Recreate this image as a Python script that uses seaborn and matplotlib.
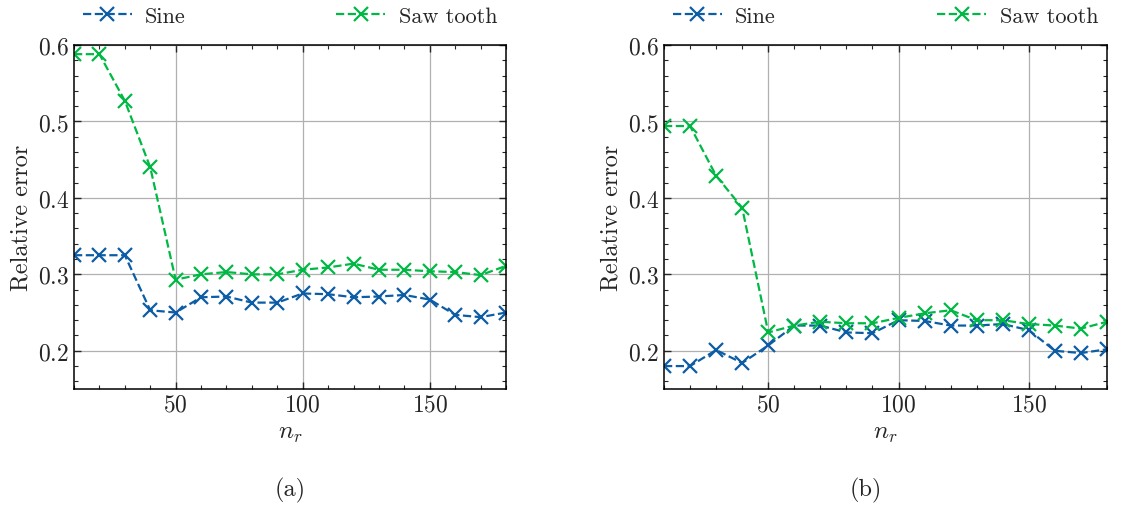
import numpy as np
import pandas as pd
import matplotlib
matplotlib.use("Agg")
import matplotlib.pyplot as plt
import seaborn as sns
from matplotlib.ticker import MultipleLocator

n_r = [10, 20, 30, 40, 50, 60, 70, 80, 90, 100, 110, 120, 130, 140, 150, 160, 170, 180]

sine_a = [0.325, 0.325, 0.325, 0.253, 0.250, 0.270, 0.271, 0.263, 0.263,
          0.275, 0.274, 0.270, 0.271, 0.273, 0.267, 0.247, 0.244, 0.250]
saw_a = [0.588, 0.588, 0.527, 0.440, 0.293, 0.300, 0.303, 0.300, 0.300,
         0.306, 0.309, 0.314, 0.306, 0.306, 0.304, 0.303, 0.299, 0.311]

sine_b = [0.180, 0.180, 0.201, 0.184, 0.207, 0.233, 0.233, 0.224, 0.223,
          0.240, 0.239, 0.233, 0.233, 0.235, 0.227, 0.200, 0.197, 0.202]
saw_b = [0.494, 0.494, 0.429, 0.387, 0.224, 0.233, 0.238, 0.236, 0.236,
         0.243, 0.249, 0.253, 0.240, 0.240, 0.235, 0.233, 0.229, 0.238]

panel_labels = ["(a)", "(b)"]
series_names = ["Sine", "Saw tooth"]
colors = ["#0C5DA5", "#00B945"]

sns.set_theme(style="ticks")
plt.rcParams["font.family"] = ["cmr10", "DejaVu Serif"]
plt.rcParams["mathtext.fontset"] = "cm"
plt.rcParams["axes.formatter.use_mathtext"] = True

fig = plt.figure(figsize=(11.23, 5.06), dpi=100)
ax_a = fig.add_axes([74 / 1123, 1 - 390 / 506, 432 / 1123, 344 / 506])
ax_b = fig.add_axes([664 / 1123, 1 - 390 / 506, 443 / 1123, 344 / 506])

panels = [(ax_a, sine_a, saw_a, 290), (ax_b, sine_b, saw_b, 866)]

for i, (ax, sine, saw, cx) in enumerate(panels):
    for name, vals, c in zip(series_names, [sine, saw], colors):
        sns.lineplot(x=n_r, y=vals, ax=ax, color=c, linestyle="--", marker="x",
                     markersize=9.5, markeredgewidth=1.6, markeredgecolor=c,
                     markerfacecolor=c, linewidth=1.6, label=name)
    ax.set_xlim(10, 180)
    ax.set_ylim(0.15, 0.6)
    ax.xaxis.set_major_locator(MultipleLocator(50))
    ax.xaxis.set_minor_locator(MultipleLocator(10))
    ax.yaxis.set_major_locator(MultipleLocator(0.1))
    ax.yaxis.set_minor_locator(MultipleLocator(0.02))
    ax.tick_params(which="both", direction="in", top=True, right=True, labelsize=17)
    ax.tick_params(which="major", length=5, width=1)
    ax.tick_params(which="minor", length=3, width=0.8)
    ax.grid(True, which="major", color="#b0b0b0", linewidth=0.9)
    for s in ax.spines.values():
        s.set_linewidth(1.1)
        s.set_color("black")
    ax.set_xlabel("$n_r$", fontsize=18)
    ax.set_ylabel("Relative error", fontsize=17.5)
    ax.legend(loc="lower left", bbox_to_anchor=(0, 1.03, 1, 0.12), mode="expand",
              ncol=2, frameon=False, fontsize=16, handlelength=2.2,
              handletextpad=0.6, borderaxespad=0)
    fig.text(cx / 1123, 1 - 490 / 506, panel_labels[i], ha="center", va="center", fontsize=17.5)

fig.savefig("out.png", dpi=100)
